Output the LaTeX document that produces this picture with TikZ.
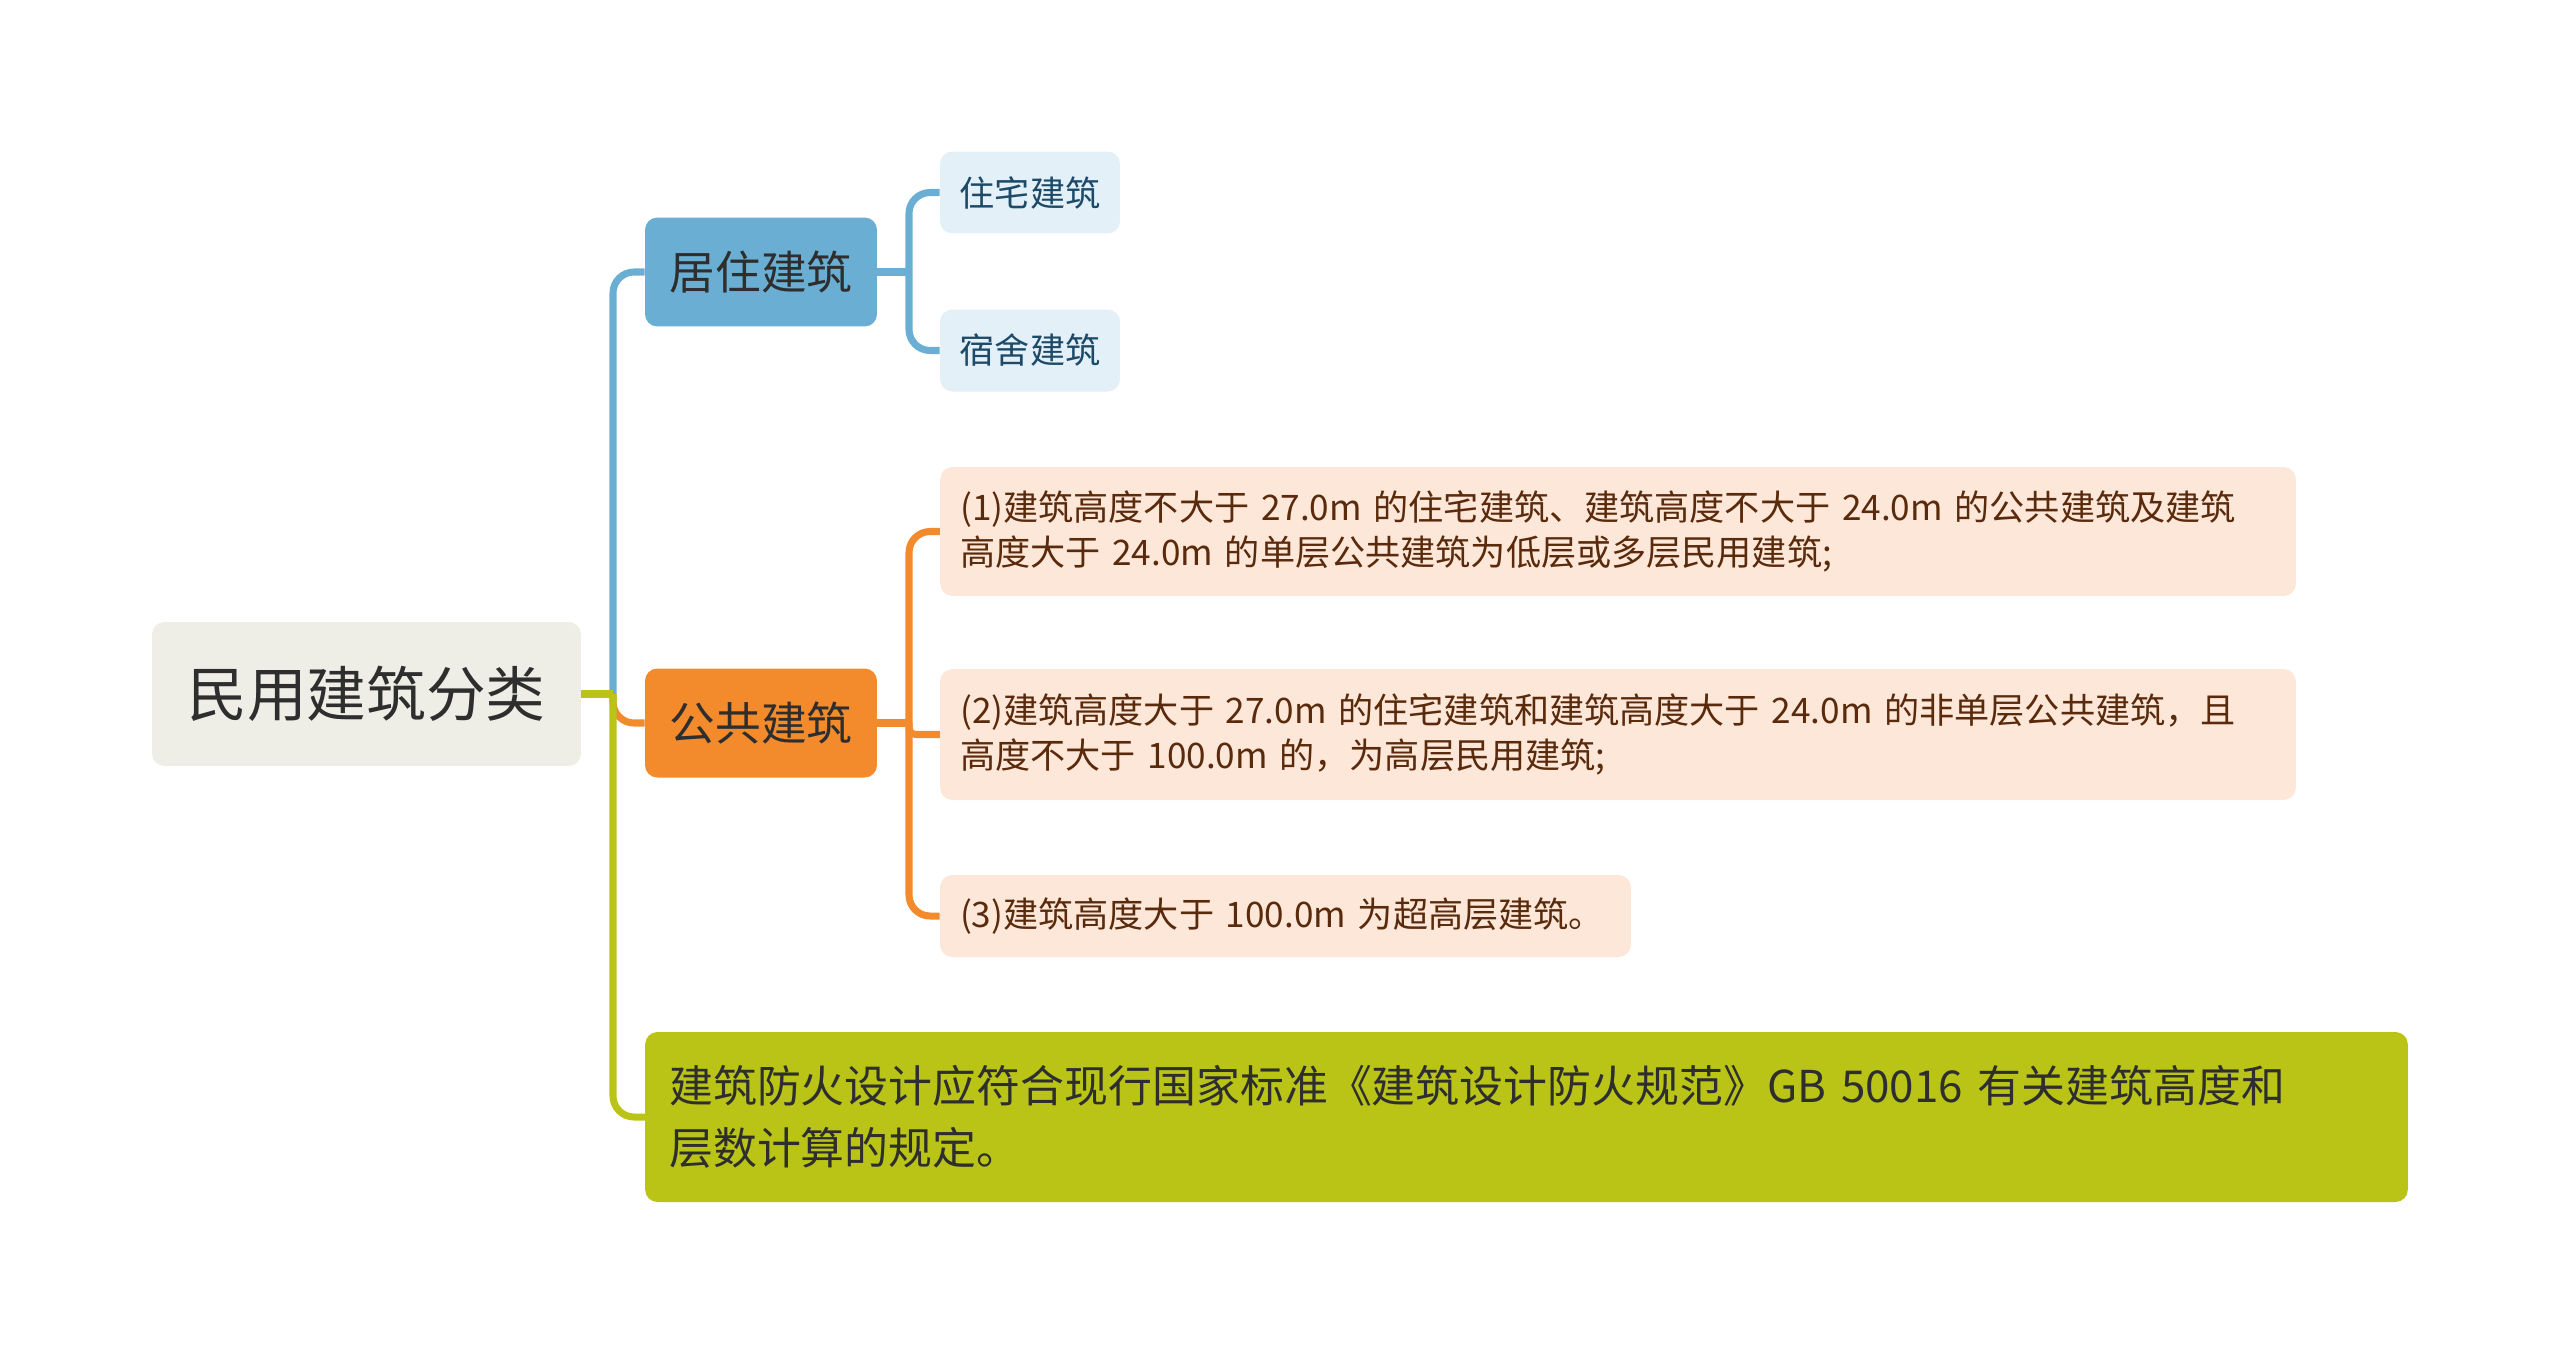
\documentclass[tikz,border=0pt]{standalone}
\usepackage{fontspec}
\setmainfont{Noto Sans CJK SC}

\definecolor{rootfill}{HTML}{EEEEE6}
\definecolor{txtdark}{HTML}{2E2E2E}
\definecolor{livblue}{HTML}{6AAFD3}
\definecolor{livlight}{HTML}{E3F0F7}
\definecolor{livtext}{HTML}{1D4A68}
\definecolor{pubor}{HTML}{F38A2B}
\definecolor{publight}{HTML}{FDE7D8}
\definecolor{pubtext}{HTML}{5A2A0C}
\definecolor{notegreen}{HTML}{BAC417}

\begin{document}
\begin{tikzpicture}[x=0.02cm, y=-0.02cm,
  box/.style={rounded corners=7pt, inner sep=0pt},
  rootbox/.style={box, fill=rootfill, text=txtdark,
    font=\fontsize{34}{40}\selectfont, minimum width=8.58cm, minimum height=2.88cm},
  mainbox/.style={box, text=txtdark, font=\fontsize{26}{31}\selectfont,
    minimum width=4.64cm, minimum height=2.18cm},
  livleaf/.style={box, fill=livlight, text=livtext, font=\fontsize{20}{26}\selectfont,
    minimum width=3.6cm, minimum height=1.64cm},
  publeaf/.style={box, fill=publight, text=pubtext, font=\fontsize{20}{26}\selectfont,
    align=left, inner xsep=0.4cm},
  branch/.style={line width=4pt, rounded corners=12pt}]

  \useasboundingbox (0,0) rectangle (2560,1353);

  %% ===================== NODES =====================

  \node[rootbox] (root) at (366.5,694) {民用建筑分类};

  % first level
  \node[mainbox, fill=livblue] (juzhu) at (761,272) {居住建筑};
  \node[mainbox, fill=pubor] (gonggong) at (761,723) {公共建筑};
  \node[box, fill=notegreen, text=txtdark, font=\fontsize{25}{35}\selectfont,
    align=left, text width=34.3cm, inner xsep=0.48cm, minimum height=3.4cm]
    (note) at (1526.5,1117)
    {建筑防火设计应符合现行国家标准《建筑设计防火规范》GB 50016 有关建筑高度和\\层数计算的规定。};

  % leaves of 居住建筑
  \node[livleaf] (zhuzhai) at (1030,192.5) {住宅建筑};
  \node[livleaf] (sushe) at (1030,350.5) {宿舍建筑};

  % leaves of 公共建筑
  \node[publeaf, text width=26.32cm, minimum height=2.58cm] (low) at (1618,531.5)
    {(1)建筑高度不大于 27.0m 的住宅建筑、建筑高度不大于 24.0m 的公共建筑及建筑\\高度大于 24.0m 的单层公共建筑为低层或多层民用建筑;};
  \node[publeaf, text width=26.32cm, minimum height=2.62cm] (high) at (1618,734.5)
    {(2)建筑高度大于 27.0m 的住宅建筑和建筑高度大于 24.0m 的非单层公共建筑，且\\高度不大于 100.0m 的，为高层民用建筑;};
  \node[publeaf, text width=13.02cm, minimum height=1.64cm] (super) at (1285.5,916)
    {(3)建筑高度大于 100.0m 为超高层建筑。};

  %% =================== CONNECTORS ===================

  \coordinate (hub) at (613,694);
  \coordinate (livhub) at (909,272);
  \coordinate (pubhub) at (909,723);

  % root to first level (green drawn last, on top)
  \draw[branch, livblue] (hub) |- (juzhu.west);
  \draw[branch, pubor] (hub) |- (gonggong.west);
  \draw[branch, notegreen] (hub) |- (note.west);
  \draw[branch, notegreen] (root.east) -- (hub);

  % 居住建筑 to leaves
  \draw[branch, livblue] (juzhu.east) -- (livhub);
  \draw[branch, livblue] (livhub) |- (zhuzhai.west);
  \draw[branch, livblue] (livhub) |- (sushe.west);

  % 公共建筑 to leaves
  \draw[branch, pubor] (gonggong.east) -- (pubhub);
  \draw[branch, pubor] (pubhub) |- (low.west);
  \draw[branch, pubor, rounded corners=4pt] (pubhub) |- (high.west);
  \draw[branch, pubor] (pubhub) |- (super.west);

\end{tikzpicture}
\end{document}
